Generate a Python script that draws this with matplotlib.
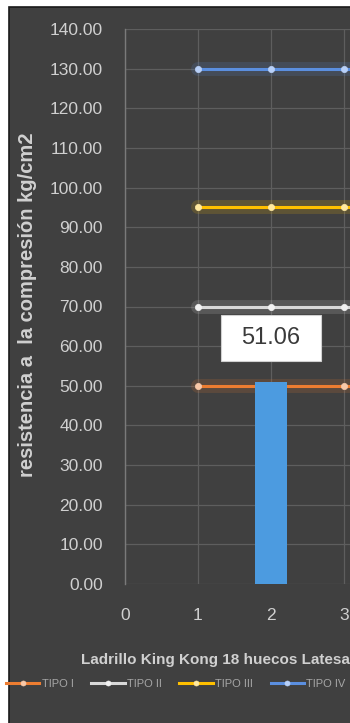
import matplotlib.pyplot as plt
from matplotlib.patches import Rectangle

plt.rcParams['font.family'] = ['Liberation Sans', 'DejaVu Sans']

# chart data
x_points = [1, 2, 3, 4]
tipo_names = ["TIPO I", "TIPO II", "TIPO III", "TIPO IV"]
tipo_values = [50, 70, 95, 130]
tipo_colors = ["#ED7D31", "#D9D9D9", "#FFC000", "#5B8FE0"]
dot_colors = ["#F8C8A8", "#F2F2F2", "#FFE9A0", "#B8D0F8"]
bar_x = [2]
bar_values = [51.06]
y_ticks = [0, 10, 20, 30, 40, 50, 60, 70, 80, 90, 100, 110, 120, 130, 140]
x_ticks = [0, 1, 2, 3]

bg = "#404040"
fig = plt.figure(figsize=(3.5, 7.23), dpi=100, facecolor="white")

# dark chart area with thin border (picture is cropped from a wider chart)
fig.patches.append(Rectangle((9 / 350, -0.01), 1.0, 1 - 7 / 723 + 0.01,
                             transform=fig.transFigure, facecolor=bg,
                             edgecolor="#1a1a1a", linewidth=1.2, zorder=0))

ax = fig.add_axes([125 / 350, 1 - 584 / 723, 1 - 125 / 350, (584 - 29) / 723])
ax.set_zorder(2)
ax.set_facecolor(bg)

ax.bar(bar_x, bar_values, width=0.45, color="#4C9BE0", zorder=5)

for name, val, col, dot in zip(tipo_names, tipo_values, tipo_colors, dot_colors):
    ys = [val] * len(x_points)
    # soft glow
    ax.plot(x_points, ys, color=col, linewidth=10, alpha=0.16, zorder=2,
            solid_capstyle="round")
    ax.plot(x_points, ys, color=col, linewidth=2.2, marker="o",
            markersize=4.5, markerfacecolor=dot, markeredgecolor=dot,
            markeredgewidth=0.5, label=name, zorder=4)

for bx, bv in zip(bar_x, bar_values):
    ax.text(bx, bv + 11, f"{bv:.2f}", ha="center", va="center",
            fontsize=17, color="#3a3a3a", zorder=6,
            bbox=dict(boxstyle="square,pad=0.85", mutation_aspect=0.6,
                      facecolor="white", edgecolor="#d0d0d0", linewidth=0.8))

ax.set_xlim(0, 225 / 73.0)
ax.set_ylim(0, 140)
ax.set_yticks(y_ticks)
ax.set_yticklabels([f"{v:.2f}" for v in y_ticks])
ax.set_xticks(x_ticks)
ax.set_xticklabels([str(v) for v in x_ticks])
ax.tick_params(axis="y", length=0, pad=16, labelsize=12.5, labelcolor="#d0d0d0")
ax.tick_params(axis="x", length=0, pad=17, labelsize=12.5, labelcolor="#d0d0d0")

ax.grid(True, color="#5e5e5e", linewidth=0.9, zorder=1)
ax.set_axisbelow(True)
for side in ["top", "right", "bottom"]:
    ax.spines[side].set_visible(False)
ax.spines["left"].set_color("#7a7a7a")
ax.spines["left"].set_linewidth(1.0)

fig.text(215 / 350, 1 - 660 / 723, "Ladrillo King Kong 18 huecos Latesa",
         ha="center", va="center", fontsize=11, fontweight="bold",
         color="#d0d0d0")
fig.text(28 / 350, 1 - 305 / 723, "resistencia a  la compresión kg/cm2",
         ha="center", va="center", rotation=90, fontsize=14.5,
         fontweight="bold", color="#d0d0d0", zorder=3)

handles, labels = ax.get_legend_handles_labels()
leg = fig.legend(handles, labels, ncol=4, loc="center left",
                 bbox_to_anchor=(6 / 350, 1 - 684 / 723), frameon=False,
                 fontsize=8, handlelength=3.0, handletextpad=0.2,
                 columnspacing=1.6, borderpad=0, borderaxespad=0,
                 markerscale=0.8)
leg.set_zorder(3)
for t in leg.get_texts():
    t.set_color("#a6a6a6")

fig.savefig("out.png", dpi=100, facecolor="white")
